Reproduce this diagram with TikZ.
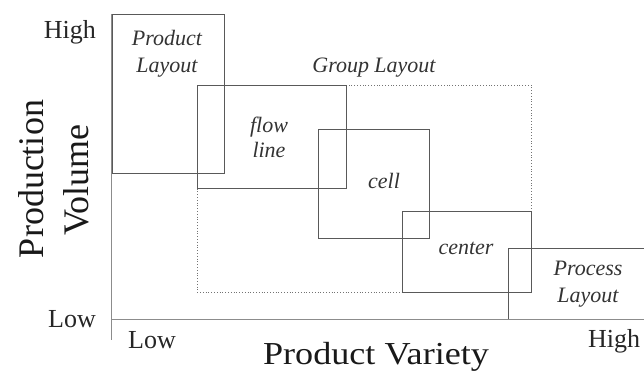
\documentclass[tikz,border=0pt]{standalone}
\usepackage{fontspec}
\setmainfont{Liberation Serif}
\begin{document}
\begin{tikzpicture}[x=1pt,y=-1pt,
  box/.style={draw=black!65,line width=0.9pt},
  grp/.style={draw=black!55,line width=0.8pt,dotted},
  lbl/.style={font=\fontsize{22}{24}\selectfont\itshape,anchor=base,inner sep=0pt,text=black!80},
  tick/.style={font=\fontsize{26}{28}\selectfont,inner sep=0pt,text=black!85},
  axt/.style={font=\fontsize{36}{36}\selectfont,inner sep=0pt,text=black!90,anchor=base}]
\useasboundingbox (0,0) rectangle (644,370);
% axes
\coordinate (ytop) at (111,14);
\coordinate (ybot) at (111,340);
\coordinate (xl) at (111,319);
\coordinate (xr) at (644,319);
\draw[black!45,line width=0.8pt] (ytop) -- (ybot);
\draw[black!45,line width=0.8pt] (xl) -- (xr);
% group layout dotted
\draw[grp] (197,85) rectangle (531,292);
% boxes
\draw[box] (112,14) rectangle (224,173);
\draw[box] (197,85) rectangle (346,188);
\draw[box] (318,129) rectangle (429,238);
\draw[box] (402,211) rectangle (531,292);
\draw[box] (508,319) -- (508,248) -- (644,248);
% labels
\node[lbl] (pl1) at (167,45) {Product};
\node[lbl] (pl2) at (167,72) {Layout};
\node[lbl] (gl) at (374,72) {Group Layout};
\node[lbl] (fl1) at (269,132) {flow};
\node[lbl] (fl2) at (269,157) {line};
\node[lbl] (ce) at (384,188) {cell};
\node[lbl] (cn) at (466,254) {center};
\node[lbl] (pr1) at (588,275) {Process};
\node[lbl] (pr2) at (588,302) {Layout};
% ticks
\node[tick,anchor=base east] (hy) at (96,38) {High};
\node[tick,anchor=base east] (ly) at (96,327) {Low};
\node[tick,anchor=base] (lx) at (152,348) {Low};
\node[tick,anchor=base west] (hx) at (588,347) {High};
\node[axt,font=\fontsize{32}{32}\selectfont,xscale=1.13] (xv) at (376,364) {Product Variety};
\node[axt,rotate=90] (yv1) at (43,179) {Production};
\node[axt,rotate=90] (yv2) at (88,180) {Volume};
\end{tikzpicture}
\end{document}
